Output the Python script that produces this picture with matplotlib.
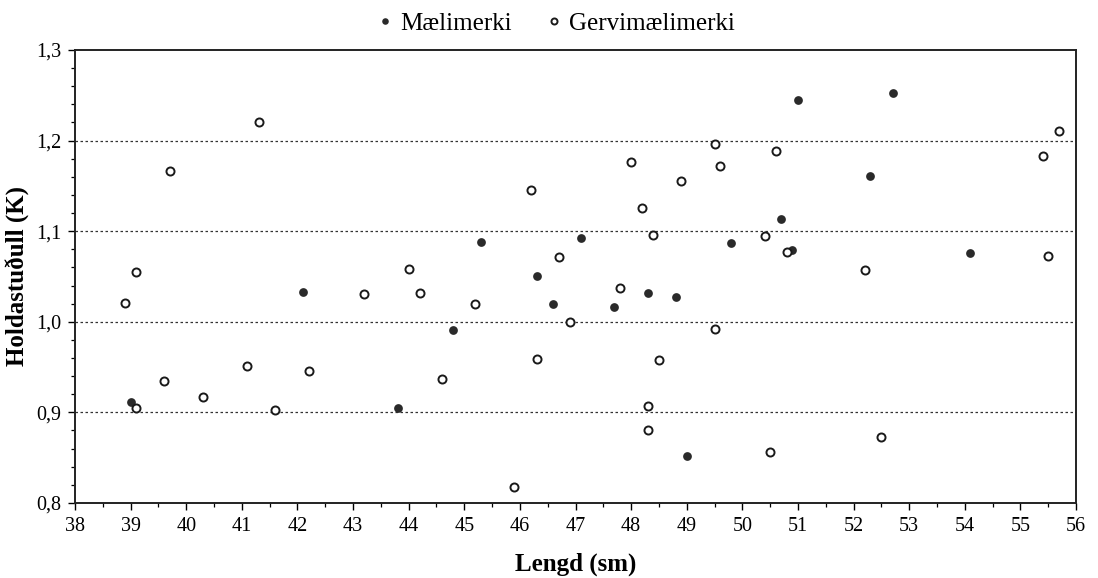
import numpy as np
import matplotlib.pyplot as plt
from matplotlib.ticker import MultipleLocator, FuncFormatter

# Mælimerki (fylltir hringir)
lengd_maeli = [39.0, 42.1, 43.8, 44.8, 45.3, 46.3, 46.6, 47.1, 47.7, 48.3,
               48.8, 49.0, 49.8, 50.7, 50.9, 51.0, 52.3, 52.7, 54.1]
hold_maeli = [0.911, 1.033, 0.905, 0.991, 1.088, 1.050, 1.020, 1.092, 1.016, 1.032,
              1.027, 0.852, 1.087, 1.114, 1.079, 1.245, 1.161, 1.252, 1.076]

# Gervimælimerki (opnir hringir)
lengd_gervi = [38.9, 39.1, 39.1, 39.6, 39.7, 40.3, 41.1, 41.3, 41.6, 42.2,
               43.2, 44.0, 44.2, 44.6, 45.2, 45.9, 46.2, 46.3, 46.7, 46.9,
               47.8, 48.0, 48.2, 48.3, 48.3, 48.4, 48.5, 48.9, 49.5, 49.5,
               49.6, 50.4, 50.5, 50.6, 50.8, 52.2, 52.5, 55.4, 55.5, 55.7]
hold_gervi = [1.021, 1.055, 0.905, 0.935, 1.166, 0.917, 0.951, 1.221, 0.903, 0.946,
              1.031, 1.058, 1.032, 0.937, 1.020, 0.818, 1.146, 0.959, 1.072, 1.000,
              1.037, 1.176, 1.126, 0.907, 0.881, 1.096, 0.958, 1.155, 1.196, 0.992,
              1.172, 1.095, 0.856, 1.189, 1.077, 1.057, 0.873, 1.183, 1.073, 1.211]

plt.rcParams['font.family'] = ['Liberation Serif', 'DejaVu Serif']

fig = plt.figure(figsize=(10.98, 5.78), dpi=100)
ax = fig.add_axes([0.0683, 0.1298, 0.9117, 0.7837])

ax.plot(lengd_maeli, hold_maeli, 'o', color='#2a2a2a', markersize=6.3,
        markeredgewidth=0, label='Mælimerki', zorder=3)
ax.plot(lengd_gervi, hold_gervi, 'o', markerfacecolor='white', markeredgecolor='#1a1a1a',
        markersize=5.8, markeredgewidth=1.4, label='Gervimælimerki', zorder=3)

ax.set_xlim(38, 56)
ax.set_ylim(0.8, 1.3)
ax.xaxis.set_major_locator(MultipleLocator(1))
ax.xaxis.set_minor_locator(MultipleLocator(0.5))
ax.yaxis.set_major_locator(MultipleLocator(0.1))
ax.yaxis.set_minor_locator(MultipleLocator(0.02))
ax.yaxis.set_major_formatter(FuncFormatter(lambda v, p: f'{v:.1f}'.replace('.', ',')))

ax.tick_params(which='major', direction='out', length=5, width=1, labelsize=14.5, pad=5)
ax.tick_params(which='minor', direction='out', length=3, width=0.9)

for y in [0.9, 1.0, 1.1, 1.2]:
    ax.axhline(y, color='#333333', linestyle=(0, (2, 2)), linewidth=0.9, zorder=1)

for s in ax.spines.values():
    s.set_linewidth(1.4)
    s.set_color('#222222')

ax.set_xlabel('Lengd (sm)', fontsize=18, fontweight='bold', labelpad=12)
ax.set_ylabel('Holdastuðull (K)', fontsize=18, fontweight='bold', labelpad=4)

leg = ax.legend(loc='lower center', bbox_to_anchor=(0.478, 1.0), ncol=2, frameon=False,
                fontsize=18, markerscale=0.75, handletextpad=0.1, columnspacing=1.2,
                borderaxespad=0.2, handlelength=1.0)

fig.savefig('out.png', dpi=100)
